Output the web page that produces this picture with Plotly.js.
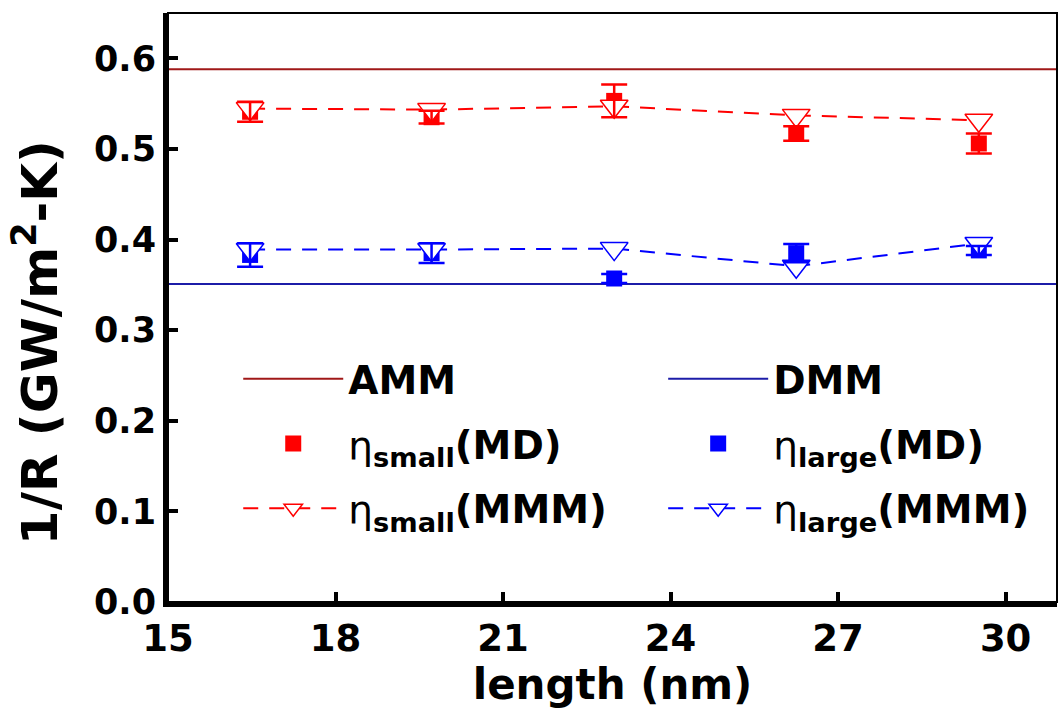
<!DOCTYPE html>
<html>
<head>
<meta charset="utf-8">
<script src="https://cdn.plot.ly/plotly-3.0.1.min.js"></script>
<style>html,body{margin:0;padding:0;background:#fff;}#chart{width:1059px;height:709px;}</style>
</head>
<body>
<div id="chart"></div>
<script>
// ---- data ----
var lengths   = [16.47, 19.72, 22.99, 26.25, 29.52];
var smallMD    = [0.541, 0.535, 0.553, 0.517, 0.506];
var smallMDErr = [0.011, 0.007, 0.018, 0.008, 0.011];
var largeMD    = [0.383, 0.385, 0.357, 0.385, 0.388];
var largeMDErr = [0.013, 0.011, 0.005, 0.010, 0.005];
var smallMMM   = [0.5445, 0.5434, 0.547, 0.537, 0.5317];
var largeMMM   = [0.389, 0.389, 0.390, 0.3705, 0.3956];
var ammValue = 0.588;
var dmmValue = 0.351;
var xRange = [15, 30.92];
var yRange = [0, 0.65];
var xTicks = [15, 18, 21, 24, 27, 30];
var yTicks = [0.0, 0.1, 0.2, 0.3, 0.4, 0.5, 0.6];

var FONT = 'DejaVu Sans';
var RED = '#ff0000', BLUE = '#0000ff';
var ETA = '<span style="font-weight:normal">\u03b7</span>';

var traces = [
  {x: xRange, y: [ammValue, ammValue], mode: 'lines', name: 'AMM',
   legend: 'legend', legendgroup: 'a',
   line: {color: '#a01818', width: 2}},
  {x: xRange, y: [dmmValue, dmmValue], mode: 'lines', name: 'DMM',
   legend: 'legend2', legendgroup: 'd',
   line: {color: '#1c1ca8', width: 2}},
  {x: lengths, y: smallMD, mode: 'markers', name: ETA + '<sub>small</sub>(MD)',
   legend: 'legend', legendgroup: 'b',
   marker: {symbol: 'square', size: 16, color: RED}},
  {x: lengths, y: largeMD, mode: 'markers', name: ETA + '<sub>large</sub>(MD)',
   legend: 'legend2', legendgroup: 'e',
   marker: {symbol: 'square', size: 16, color: BLUE}},
  {x: lengths, y: smallMMM, mode: 'lines+markers', name: ETA + '<sub>small</sub>(MMM)',
   legend: 'legend', legendgroup: 'c',
   line: {color: RED, width: 2, dash: '15px,11px'},
   marker: {symbol: 'triangle-down', size: 24, color: 'white', line: {color: RED, width: 1.5}}},
  {x: lengths, y: largeMMM, mode: 'lines+markers', name: ETA + '<sub>large</sub>(MMM)',
   legend: 'legend2', legendgroup: 'f',
   line: {color: BLUE, width: 2, dash: '15px,11px'},
   marker: {symbol: 'triangle-down', size: 24, color: 'white', line: {color: BLUE, width: 1.5}}},
  // error bars drawn on top of all markers
  {x: lengths, y: smallMD, mode: 'markers', showlegend: false, hoverinfo: 'skip',
   marker: {size: 1, opacity: 0},
   error_y: {type: 'data', array: smallMDErr, visible: true, color: RED, thickness: 2.5, width: 13}},
  {x: lengths, y: largeMD, mode: 'markers', showlegend: false, hoverinfo: 'skip',
   marker: {size: 1, opacity: 0},
   error_y: {type: 'data', array: largeMDErr, visible: true, color: BLUE, thickness: 2.5, width: 13}}
];

function legendBox(xPos) {
  return {
    orientation: 'v', x: xPos, y: 0.433, xanchor: 'left', yanchor: 'top',
    bgcolor: 'rgba(0,0,0,0)', borderwidth: 0,
    traceorder: 'grouped', tracegroupgap: 11,
    itemwidth: 100,
    font: {family: FONT, size: 39, weight: 'bold', color: 'black'}
  };
}

var layout = {
  width: 1059, height: 709,
  margin: {l: 168, r: 2, t: 13, b: 107},
  paper_bgcolor: 'white', plot_bgcolor: 'white',
  font: {family: FONT, color: 'black'},
  showlegend: true,
  xaxis: {
    range: xRange, tickvals: xTicks, ticktext: xTicks.map(String),
    showgrid: false, zeroline: false,
    showline: true, linewidth: 5, linecolor: 'black',
    ticks: 'inside', ticklen: 10, tickwidth: 4, tickcolor: 'black',
    tickfont: {family: FONT, size: 37, weight: 'bold', color: 'black'},
    title: {text: 'length (nm)', font: {family: FONT, size: 42, weight: 'bold', color: 'black'}, standoff: 4}
  },
  yaxis: {
    range: yRange, tickvals: yTicks, ticktext: yTicks.map(function(v){return v.toFixed(1);}),
    showgrid: false, zeroline: false,
    showline: true, linewidth: 5, linecolor: 'black',
    ticks: 'inside', ticklen: 10, tickwidth: 4, tickcolor: 'black',
    tickfont: {family: FONT, size: 35, weight: 'bold', color: 'black'}
  },
  shapes: [{type: 'rect', xref: 'paper', yref: 'paper', x0: 0, x1: 1, y0: 0, y1: 1,
            line: {color: 'black', width: 2}, layer: 'above'}],
  annotations: [{
    text: '1/R (GW/m<sup>2</sup>-K)', textangle: -90, showarrow: false,
    xref: 'paper', yref: 'paper', x: -0.147, y: 0.44, xanchor: 'center', yanchor: 'middle',
    font: {family: FONT, size: 50, weight: 'bold', color: 'black'}
  }],
  legend: legendBox(0.079),
  legend2: legendBox(0.557)
};

Plotly.newPlot('chart', traces, layout, {displayModeBar: false, staticPlot: true});
</script>
</body>
</html>
